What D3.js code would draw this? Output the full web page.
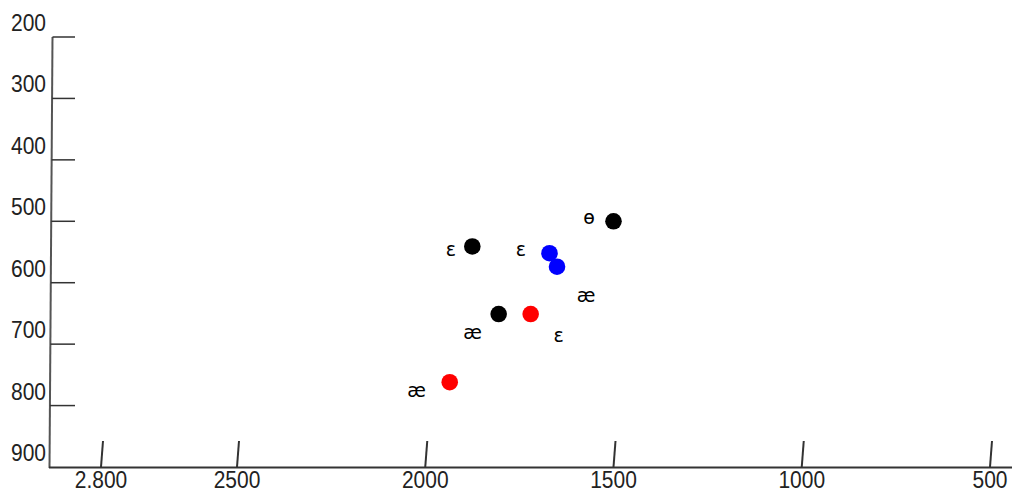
<!DOCTYPE html>
<html><head><meta charset="utf-8">
<script src="https://cdn.jsdelivr.net/npm/d3@7"></script>
<style>html,body{margin:0;padding:0;background:#fff;}svg{display:block;}</style>
</head><body>
<script>
// F2 (Hz) and F1 (Hz) for each point, with colours
const pointF2 = [1875, 1500, 1670, 1650, 1805, 1720, 1935];
const pointF1 = [541, 500, 552, 574, 651, 651, 762];
const pointColor = ["#000000", "#000000", "#0000ff", "#0000ff", "#000000", "#ff0000", "#ff0000"];
// vowel labels placed on the chart
const labelText = ["ɛ", "ɛ", "ɵ", "æ", "æ", "ɛ", "æ"];
const labelF2 = [1932, 1746, 1565, 1573, 1874, 1646, 2023];
const labelF1 = [547, 547, 494, 621, 682, 687, 776];
// axis ticks
const xTickValues = [2800, 2500, 2000, 1500, 1000, 500];
const xTickLabels = ["2.800", "2500", "2000", "1500", "1000", "500"];
const yTickValues = [200, 300, 400, 500, 600, 700, 800, 900];
const yTickLabels = ["200", "300", "400", "500", "600", "700", "800", "900"];

const W = 1016, H = 490;
const svg = d3.select("body").append("svg").attr("width", W).attr("height", H);
svg.append("rect").attr("width", W).attr("height", H).attr("fill", "#ffffff");

// reversed frequency axis (polylinear: first segment drawn wider as in the original)
const x = d3.scaleLinear().domain([2800, 2500, 500]).range([101, 237, 990]);
const y = d3.scaleLinear().domain([200, 900]).range([37, 467]);

const font = "'Liberation Sans', Arial, sans-serif";

// y axis (slightly slanted line)
svg.append("line").attr("x1", 52.5).attr("y1", y(200)).attr("x2", 49.5).attr("y2", y(900) + 1)
  .attr("stroke", "#555").attr("stroke-width", 2);
const yAxisX = v => 52.5 - 3 * (y(v) - y(200)) / (y(900) - y(200));
yTickValues.forEach((v, i) => {
  if (v !== 900) {
    svg.append("line").attr("x1", yAxisX(v)).attr("x2", 75).attr("y1", y(v)).attr("y2", y(v))
      .attr("stroke", "#333").attr("stroke-width", 1.5);
  }
  svg.append("g").attr("transform", `translate(46,${y(v) - 6})`)
    .append("text").attr("transform", "scale(1,1.13)")
    .attr("text-anchor", "end").attr("font-family", font).attr("font-size", 21)
    .attr("fill", "#222").text(yTickLabels[i]);
});

// x axis
svg.append("line").attr("x1", 49).attr("x2", 1012).attr("y1", 467.5).attr("y2", 467.5)
  .attr("stroke", "#333").attr("stroke-width", 2);
xTickValues.forEach((v, i) => {
  svg.append("line").attr("x1", x(v)).attr("y1", 467).attr("x2", x(v) + 2).attr("y2", 441)
    .attr("stroke", "#333").attr("stroke-width", 2);
  svg.append("g").attr("transform", `translate(${x(v)},488)`)
    .append("text").attr("transform", "scale(1,1.1)")
    .attr("text-anchor", "middle").attr("font-family", font).attr("font-size", 21)
    .attr("fill", "#222").text(xTickLabels[i]);
});

// points
svg.selectAll("circle.pt").data(pointF2).enter().append("circle")
  .attr("class", "pt")
  .attr("cx", d => x(d)).attr("cy", (d, i) => y(pointF1[i]))
  .attr("r", 8.3).attr("fill", (d, i) => pointColor[i]);

// vowel labels
svg.selectAll("text.lab").data(labelText).enter().append("text")
  .attr("class", "lab")
  .attr("x", (d, i) => x(labelF2[i])).attr("y", (d, i) => y(labelF1[i]) + 6)
  .attr("text-anchor", "middle").attr("font-family", "'DejaVu Sans', sans-serif")
  .attr("font-size", 19).attr("fill", "#000").text(d => d);
</script>
</body></html>
